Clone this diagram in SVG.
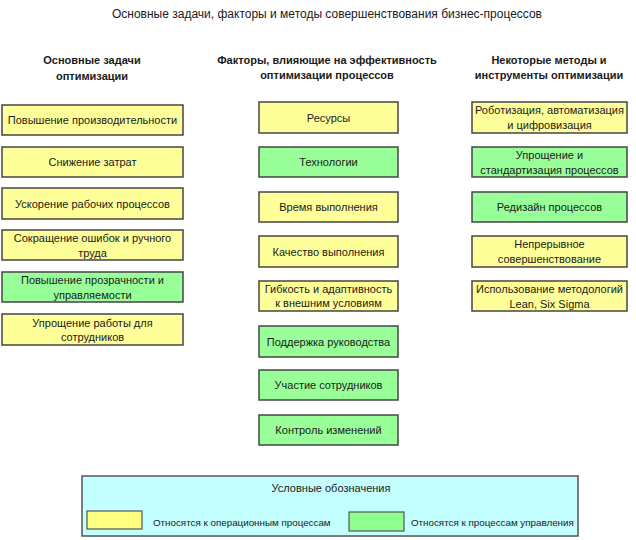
<svg xmlns="http://www.w3.org/2000/svg" width="636" height="540" viewBox="0 0 636 540">
<style>
text{font-family:"Liberation Sans",Arial,sans-serif;fill:#1a1a1a;text-anchor:middle;dominant-baseline:central}
.t{font-size:12px}
.h{font-size:11px;font-weight:bold}
.n{font-size:11px}
.l{font-size:9.8px}
.y{fill:#FFFF99;stroke:#454545;stroke-width:1.5}
.g{fill:#99FF99;stroke:#454545;stroke-width:1.5}
</style>
<rect width="636" height="540" fill="#fff"/>
<text class="t" x="327" y="14">Основные задачи, факторы и методы совершенствования бизнес-процессов</text>
<g id="headers">
<text class="h" x="92" y="60">Основные задачи</text>
<text class="h" x="92" y="76">оптимизации</text>
<text class="h" x="327" y="60">Факторы, влияющие на эффективность</text>
<text class="h" x="327" y="75">оптимизации процессов</text>
<text class="h" x="549" y="60">Некоторые методы и</text>
<text class="h" x="549" y="75">инструменты оптимизации</text>
</g>
<g id="connectors"></g>
<g id="l1"><rect class="y" x="2" y="105" width="181" height="30"/><text class="n" x="92.5" y="120">Повышение производительности</text></g>
<g id="l2"><rect class="y" x="2" y="147" width="181" height="30"/><text class="n" x="92.5" y="162">Снижение затрат</text></g>
<g id="l3"><rect class="y" x="2" y="188" width="181" height="31"/><text class="n" x="92.5" y="203.5">Ускорение рабочих процессов</text></g>
<g id="l4"><rect class="y" x="2" y="230" width="181" height="30"/><text class="n" x="92.5" y="238">Сокращение ошибок и ручного</text><text class="n" x="92.5" y="253">труда</text></g>
<g id="l5"><rect class="g" x="2" y="272" width="181" height="30"/><text class="n" x="92.5" y="280">Повышение прозрачности и</text><text class="n" x="92.5" y="295">управляемости</text></g>
<g id="l6"><rect class="y" x="2" y="314" width="181" height="31"/><text class="n" x="92.5" y="322.5">Упрощение работы для</text><text class="n" x="92.5" y="337">сотрудников</text></g>
<g id="m1"><rect class="y" x="259" y="102" width="139" height="31"/><text class="n" x="328.5" y="117.5">Ресурсы</text></g>
<g id="m2"><rect class="g" x="259" y="147" width="139" height="30"/><text class="n" x="328.5" y="162">Технологии</text></g>
<g id="m3"><rect class="y" x="259" y="192" width="139" height="30"/><text class="n" x="328.5" y="207">Время выполнения</text></g>
<g id="m4"><rect class="y" x="259" y="236" width="139" height="31"/><text class="n" x="328.5" y="251.5">Качество выполнения</text></g>
<g id="m5"><rect class="y" x="259" y="281" width="139" height="30"/><text class="n" x="328.5" y="289">Гибкость и адаптивность</text><text class="n" x="328.5" y="303">к внешним условиям</text></g>
<g id="m6"><rect class="g" x="259" y="326" width="139" height="31"/><text class="n" x="328.5" y="341.5">Поддержка руководства</text></g>
<g id="m7"><rect class="g" x="259" y="370" width="139" height="30"/><text class="n" x="328.5" y="385">Участие сотрудников</text></g>
<g id="m8"><rect class="g" x="259" y="415" width="139" height="30"/><text class="n" x="328.5" y="430">Контроль изменений</text></g>
<g id="r1"><rect class="y" x="472" y="102" width="155" height="31"/><text class="n" x="549.5" y="110">Роботизация, автоматизация</text><text class="n" x="549.5" y="125">и цифровизация</text></g>
<g id="r2"><rect class="g" x="472" y="147" width="155" height="30"/><text class="n" x="549.5" y="155">Упрощение и</text><text class="n" x="549.5" y="169.5">стандартизация процессов</text></g>
<g id="r3"><rect class="g" x="472" y="192" width="155" height="30"/><text class="n" x="549.5" y="207">Редизайн процессов</text></g>
<g id="r4"><rect class="y" x="472" y="236" width="155" height="31"/><text class="n" x="549.5" y="244">Непрерывное</text><text class="n" x="549.5" y="259">совершенствование</text></g>
<g id="r5"><rect class="y" x="472" y="281" width="155" height="30"/><text class="n" x="549.5" y="289">Использование методологий</text><text class="n" x="549.5" y="303.5">Lean, Six Sigma</text></g>
<g id="legend">
<rect x="82" y="476" width="496" height="60" fill="#C4FFFF" stroke="#555" stroke-width="1.5"/>
<text class="n" x="331" y="488">Условные обозначения</text>
<rect x="87" y="511" width="55" height="18" fill="#FFFF80" stroke="#555" stroke-width="1.2"/>
<text class="l" x="153" y="522" style="text-anchor:start">Относятся к операционным процессам</text>
<rect x="349" y="512" width="55" height="19" fill="#8FFF8F" stroke="#555" stroke-width="1.2"/>
<text class="l" x="411" y="522" style="text-anchor:start">Относятся к процессам управления</text>
</g>
</svg>
